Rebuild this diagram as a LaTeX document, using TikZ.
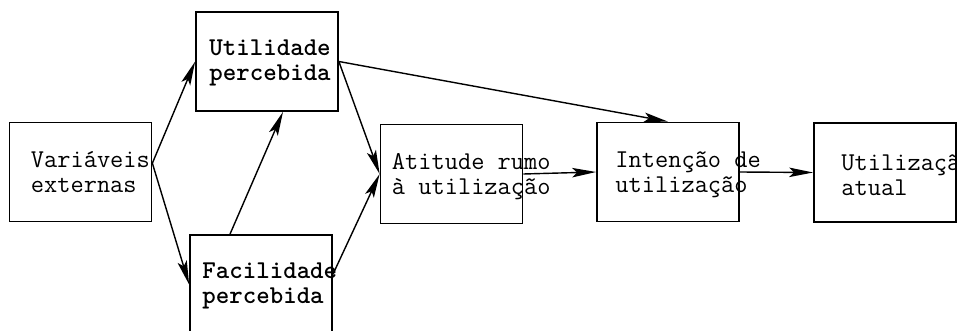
\documentclass[tikz,border=0pt]{standalone}
\usepackage{fontspec}
\usepackage{tikz}
\usetikzlibrary{arrows.meta, positioning}

\begin{document}
\begin{tikzpicture}[
    x=0.02cm, y=-0.02cm,
    box/.style={draw, line width=1pt, minimum width=2.84cm, minimum height=1.98cm, inner sep=0pt},
    txt/.style={anchor=west, align=left, inner sep=0pt, font=\ttfamily\fontsize{14.6}{14.2}\selectfont},
    arrow/.style={-{Stealth[length=4.8mm, width=1.9mm, inset=1mm]}, line width=0.8pt}
]
    \clip (0,0) rectangle (957,331);

    % Boxes
    \node[box] (var) at (80.5,172) {};
    \node[box] (util) at (267,61.5) {};
    \node[box] (facil) at (261,284.5) {};
    \node[box] (att) at (451.5,174) {};
    \node[box] (int) at (668,172) {};
    \node[box] (use) at (885,172.5) {};

    % Texts
    \node[txt, right=0.44cm of var.west] (varT) {Variáveis\\externas};
    \node[txt, right=0.28cm of util.west, yshift=-0.03cm] (utilT) {\bfseries Utilidade\\\bfseries percebida};
    \node[txt, right=0.26cm of facil.west, yshift=-0.03cm] (facilT) {\bfseries Facilidade\\\bfseries percebida};
    \node[txt, right=0.24cm of att.west, yshift=-0.05cm] (attT) {Atitude rumo\\à utilização};
    \node[txt, right=0.38cm of int.west, yshift=-0.05cm] (intT) {Intenção de\\utilização};
    \node[txt, right=0.56cm of use.west, yshift=-0.06cm] (useT) {Utilização\\atual};

    % Connectors
    \draw[arrow] (var.7) -- (util.west);
    \draw[arrow] (var.7) -- (facil.west);
    \draw[arrow] ([xshift=-0.62cm]facil.north) -- ([xshift=0.32cm]util.south);
    \draw[arrow] (util.east) -- (att.west);
    \draw[arrow] (util.east) -- (int.north);
    \draw[arrow] (facil.8) -- (att.west);
    \draw[arrow] (att.east) -- (int.west);
    \draw[arrow] (int.east) -- (use.west);
\end{tikzpicture}
\end{document}
